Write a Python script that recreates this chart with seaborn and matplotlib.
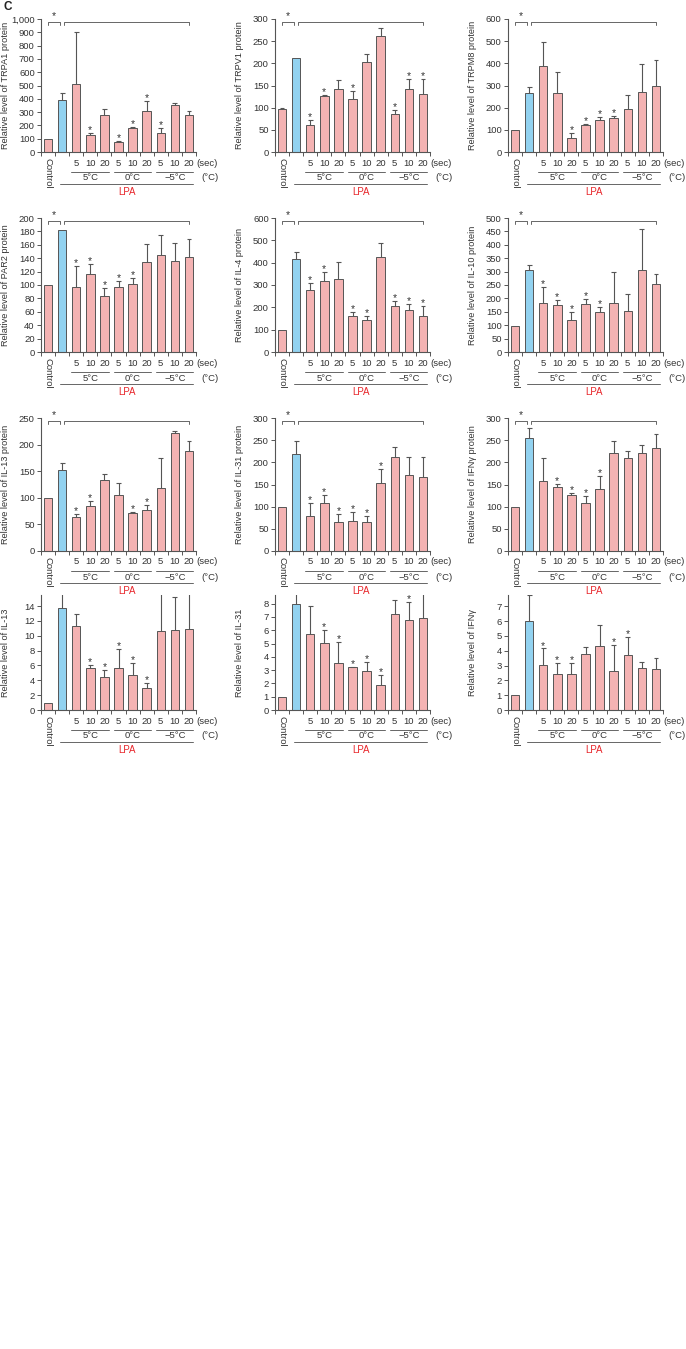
import matplotlib
matplotlib.use("Agg")
import matplotlib.pyplot as plt
import matplotlib.transforms as mtransforms
from matplotlib.ticker import FuncFormatter, MultipleLocator
import numpy as np
import pandas as pd
import seaborn as sns

# bar order: Control, LPA, then 5/10/20 sec at 5°C, 0°C, -5°C
groups = ["Control", "LPA",
          "5C 5", "5C 10", "5C 20",
          "0C 5", "0C 10", "0C 20",
          "m5C 5", "m5C 10", "m5C 20"]
sec_labels = ["5", "10", "20"]
temp_labels = ["5°C", "0°C", "\u22125°C"]

# protein panels (mean, top of error bar, bars with *)
trpa1_mean = [100, 390, 515, 130, 278, 78, 180, 308, 145, 357, 278]
trpa1_top = [100, 445, 905, 140, 322, 85, 188, 380, 178, 370, 305]
trpa1_star = [3, 5, 6, 7, 8]

trpv1_mean = [98, 211, 60, 126, 143, 120, 203, 262, 85, 142, 131]
trpv1_top = [100, 211, 73, 129, 163, 137, 222, 279, 95, 164, 165]
trpv1_star = [2, 3, 5, 8, 9, 10]

trpm8_mean = [100, 268, 387, 268, 65, 124, 144, 153, 192, 272, 300]
trpm8_top = [100, 295, 495, 362, 87, 126, 160, 163, 258, 395, 413]
trpm8_star = [4, 5, 6, 7]

par2_mean = [100, 182, 97, 117, 83, 97, 101, 135, 145, 136, 142]
par2_top = [100, 182, 129, 131, 96, 106, 110, 161, 175, 163, 169]
par2_star = [2, 3, 4, 5, 6]

il4_mean = [100, 415, 277, 316, 328, 161, 143, 425, 208, 190, 162]
il4_top = [100, 447, 307, 357, 401, 177, 159, 490, 230, 215, 207]
il4_star = [2, 3, 5, 6, 8, 9, 10]

il10_mean = [97, 305, 181, 177, 119, 179, 149, 183, 154, 306, 255]
il10_top = [97, 326, 243, 195, 148, 198, 168, 299, 217, 458, 292]
il10_star = [2, 3, 4, 5, 6]

il13p_mean = [100, 152, 64, 85, 134, 105, 72, 78, 118, 222, 188]
il13p_top = [100, 165, 70, 94, 145, 128, 73, 86, 174, 226, 206]
il13p_star = [2, 3, 6, 7]

il31p_mean = [100, 219, 78, 109, 65, 68, 66, 154, 211, 172, 168]
il31p_top = [100, 248, 108, 127, 84, 87, 79, 185, 235, 211, 213]
il31p_star = [2, 3, 4, 5, 6, 7]

ifngp_mean = [100, 255, 157, 145, 126, 108, 139, 222, 209, 222, 233]
ifngp_top = [100, 278, 209, 152, 130, 124, 170, 248, 226, 238, 264]
ifngp_star = [3, 4, 5, 6]

# mRNA panels
il13_mean = [1.0, 13.8, 11.3, 5.6, 4.5, 5.7, 4.7, 2.9, 10.6, 10.8, 10.9]
il13_top = [1.0, 17.0, 12.9, 6.1, 5.4, 8.2, 6.3, 3.7, 16.5, 15.2, 16.5]
il13_star = [3, 4, 5, 6, 7]

il31_mean = [1.0, 8.0, 5.7, 5.05, 3.55, 3.2, 2.95, 1.9, 7.2, 6.8, 6.9]
il31_top = [1.0, 9.5, 7.8, 6.05, 5.1, 3.25, 3.6, 2.6, 8.25, 8.1, 9.5]
il31_star = [3, 4, 5, 6, 7, 9]

ifng_mean = [1.0, 6.0, 3.05, 2.45, 2.4, 3.8, 4.35, 2.6, 3.7, 2.85, 2.8]
ifng_top = [1.0, 7.75, 4.15, 3.2, 3.2, 4.25, 5.75, 4.4, 4.9, 3.25, 3.5]
ifng_star = [2, 3, 4, 7, 8]

ylabels = ["Relative level of TRPA1 protein", "Relative level of TRPV1 protein",
           "Relative level of TRPM8 protein", "Relative level of PAR2 protein",
           "Relative level of IL-4 protein", "Relative level of IL-10 protein",
           "Relative level of IL-13 protein", "Relative level of IL-31 protein",
           "Relative level of IFN\u03b3 protein", "Relative level of IL-13",
           "Relative level of IL-31", "Relative level of IFN\u03b3"]
y_max = [1000, 300, 600, 200, 600, 500, 250, 300, 300, 15.5, 8.65, 7.76]
y_step = [100, 50, 100, 20, 100, 50, 50, 50, 50, 2, 1, 1]

means = [trpa1_mean, trpv1_mean, trpm8_mean, par2_mean, il4_mean, il10_mean,
         il13p_mean, il31p_mean, ifngp_mean, il13_mean, il31_mean, ifng_mean]
tops = [trpa1_top, trpv1_top, trpm8_top, par2_top, il4_top, il10_top,
        il13p_top, il31p_top, ifngp_top, il13_top, il31_top, ifng_top]
stars = [trpa1_star, trpv1_star, trpm8_star, par2_star, il4_star, il10_star,
         il13p_star, il31p_star, ifngp_star, il13_star, il31_star, ifng_star]

PINK = "#F4B3B3"
BLUE = "#92D2F0"
EDGE = "#555555"
TEXT = "#333333"
RED = "#E8262B"

sns.set_style("ticks")
plt.rcParams["font.family"] = ["Liberation Sans", "DejaVu Sans"]
plt.rcParams["text.color"] = TEXT
plt.rcParams["axes.labelcolor"] = TEXT
plt.rcParams["xtick.color"] = EDGE
plt.rcParams["ytick.color"] = EDGE
plt.rcParams["ytick.labelcolor"] = TEXT

W, H = 686, 1349
fig = plt.figure(figsize=(W / 100, H / 100), dpi=100)

col_left = [41, 275, 508]
ax_w = 155
rows = [(19, 152), (218, 352), (418, 551), (595, 710)]


def below(ax, px):
    """blended transform: x in data, y at axis bottom shifted down by px pixels"""
    base = mtransforms.blended_transform_factory(ax.transData, ax.transAxes)
    return base + mtransforms.ScaledTranslation(0, -px / 100, fig.dpi_scale_trans)


def draw_panel(ax, mean, top, star_idx, ymax, ystep, ylabel, bracket):
    df = pd.DataFrame({"group": groups, "value": mean})
    palette = [PINK, BLUE] + [PINK] * (len(groups) - 2)
    sns.barplot(data=df, x="group", y="value", hue="group", order=groups,
                hue_order=groups, palette=palette, saturation=1, width=0.6,
                edgecolor=EDGE, linewidth=0.7, legend=False, ax=ax)
    x = np.arange(len(groups))
    mean = np.asarray(mean, dtype=float)
    top = np.asarray(top, dtype=float)
    has = top > mean
    ax.vlines(x[has], mean[has], top[has], color=EDGE, lw=0.8, zorder=1)
    ax.hlines(top[has], x[has] - 0.17, x[has] + 0.17, color=EDGE, lw=0.8, zorder=1)
    for i in star_idx:
        ax.annotate("*", (i, top[i]), xytext=(0, -1.5), textcoords="offset points",
                    ha="center", va="bottom", fontsize=7.5, color=TEXT)

    ax.set_xlim(-0.5, len(groups) - 0.5)
    ax.set_ylim(0, ymax)
    ax.yaxis.set_major_locator(MultipleLocator(ystep))
    if ymax >= 1000:
        ax.yaxis.set_major_formatter(FuncFormatter(lambda v, p: f"{v:,.0f}"))
    ax.set_xticks(np.arange(-0.5, len(groups), 1.0))
    ax.set_xticklabels([])
    ax.tick_params(axis="both", direction="out", length=3, width=0.7, labelsize=6.8, pad=1.5)
    for side in ["top", "right"]:
        ax.spines[side].set_visible(False)
    for side in ["left", "bottom"]:
        ax.spines[side].set_color(EDGE)
        ax.spines[side].set_linewidth(0.8)
    ax.set_xlabel("")
    ax.set_ylabel(ylabel, fontsize=6.6)
    ax.yaxis.set_label_coords(-0.2, 0.5)

    # significance brackets at the top
    if bracket:
        tb = mtransforms.blended_transform_factory(ax.transData, ax.transAxes)
        ax.plot([0, 0, 0.83, 0.83], [0.955, 0.98, 0.98, 0.955], color="#666666",
                lw=0.7, transform=tb, clip_on=False)
        ax.plot([1.15, 1.15, 10, 10], [0.955, 0.98, 0.98, 0.955], color="#666666",
                lw=0.7, transform=tb, clip_on=False)
        ax.text(0.42, 0.985, "*", transform=tb, ha="center", va="bottom",
                fontsize=7.5, color=TEXT)

    # group labels under the axis
    ax.text(0, 0, "Control", transform=below(ax, 6), rotation=-90,
            ha="center", va="top", fontsize=6.8)
    for g in range(3):
        c = 3 + 3 * g
        for k, s in enumerate(sec_labels):
            ax.text(c - 1 + k, 0, s, transform=below(ax, 11), ha="center",
                    va="center", fontsize=6.8)
        ax.plot([c - 1.35, c + 1.3], [0, 0], color="#666666", lw=0.7,
                transform=below(ax, 20), clip_on=False)
        ax.text(c, 0, temp_labels[g], transform=below(ax, 26), ha="center",
                va="center", fontsize=6.8)
    ax.text(10.55, 0, "(sec)", transform=below(ax, 11), ha="left", va="center", fontsize=6.8)
    ax.text(10.85, 0, "(\u00b0C)", transform=below(ax, 26), ha="left", va="center", fontsize=6.8)
    ax.plot([0.85, 10.3], [0, 0], color="#666666", lw=0.7,
            transform=below(ax, 32), clip_on=False)
    ax.text(5.6, 0, "LPA", transform=below(ax, 40), ha="center", va="center",
            fontsize=7, color=RED)


for n in range(12):
    r, c = divmod(n, 3)
    top_px, bot_px = rows[r]
    ax = fig.add_axes([col_left[c] / W, 1 - bot_px / H, ax_w / W, (bot_px - top_px) / H])
    draw_panel(ax, means[n], tops[n], stars[n], y_max[n], y_step[n], ylabels[n], r < 3)

fig.text(3 / W, 1 - 1 / H, "C", ha="left", va="top", fontsize=8.5, fontweight="bold", color="#222222")

fig.savefig("out.png", dpi=100, facecolor="white")
